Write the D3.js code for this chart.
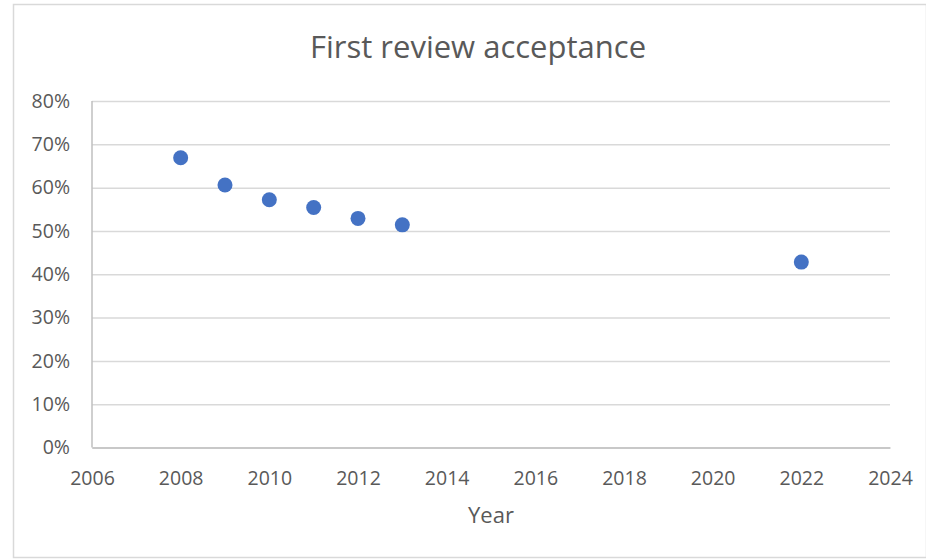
<!DOCTYPE html>
<html>
<head>
<meta charset="utf-8">
<script src="https://cdn.jsdelivr.net/npm/d3@7"></script>
<style>
body{margin:0;background:#fff;}
text{font-family:"Open Sans",sans-serif;fill:#595959;}
</style>
</head>
<body>
<svg id="chart"></svg>
<script>
var years=[2008,2009,2010,2011,2012,2013,2022]
var acceptance=[0.669,0.606,0.572,0.554,0.529,0.514,0.428]
var xTicks=[2006,2008,2010,2012,2014,2016,2018,2020,2022,2024]
var yTicks=[0,0.1,0.2,0.3,0.4,0.5,0.6,0.7,0.8]

var screen={width:926,height:560}
var svg=d3.select("#chart")
.attr("width",screen.width)
.attr("height",screen.height)

// chart border
svg.append("rect")
.attr("x",13.5).attr("y",4.5)
.attr("width",screen.width-13).attr("height",553)
.attr("fill","#fff").attr("stroke","#d9d9d9").attr("stroke-width",1.5)

var margin={left:92,right:890,top:101,bottom:447.5}

var xscale=d3.scaleLinear()
.domain([2006,2024])
.range([margin.left,margin.right])

var yscale=d3.scaleLinear()
.domain([0,0.8])
.range([margin.bottom,margin.top])

// gridlines
svg.append("g")
.attr("transform","translate("+margin.left+",0)")
.call(d3.axisLeft(yscale).tickValues(yTicks).tickSize(-(margin.right-margin.left)).tickFormat(d3.format(".0%")))
.call(function(g){
  g.select(".domain").remove()
  g.selectAll(".tick line").attr("stroke","#d9d9d9").attr("stroke-width",1.5)
  g.selectAll(".tick text").attr("x",-22).attr("font-size",19.5).style("fill","#595959")
})

// x axis
svg.append("g")
.attr("transform","translate(0,"+margin.bottom+")")
.call(d3.axisBottom(xscale).tickValues(xTicks).tickSize(0).tickFormat(d3.format("d")))
.call(function(g){
  g.select(".domain").attr("stroke","#bfbfbf").attr("stroke-width",1.5)
  g.selectAll(".tick text").attr("y",37.5).attr("dy",0).attr("font-size",19.5).style("fill","#595959")
})

// vertical axis line
svg.append("line")
.attr("x1",margin.left).attr("x2",margin.left)
.attr("y1",margin.top).attr("y2",margin.bottom)
.attr("stroke","#bfbfbf").attr("stroke-width",1.5)

svg.selectAll("circle.pt")
.data(years)
.enter()
.append("circle")
.attr("class","pt")
.attr("cx",function(d){return xscale(d)})
.attr("cy",function(d,i){return yscale(acceptance[i])})
.attr("r",7.5)
.attr("fill","#4472c4")

svg.append("text")
.attr("x",478).attr("y",58)
.attr("text-anchor","middle")
.attr("font-size",31)
.text("First review acceptance")

svg.append("text")
.attr("x",491).attr("y",523)
.attr("text-anchor","middle")
.attr("font-size",22)
.text("Year")
</script>
</body>
</html>
